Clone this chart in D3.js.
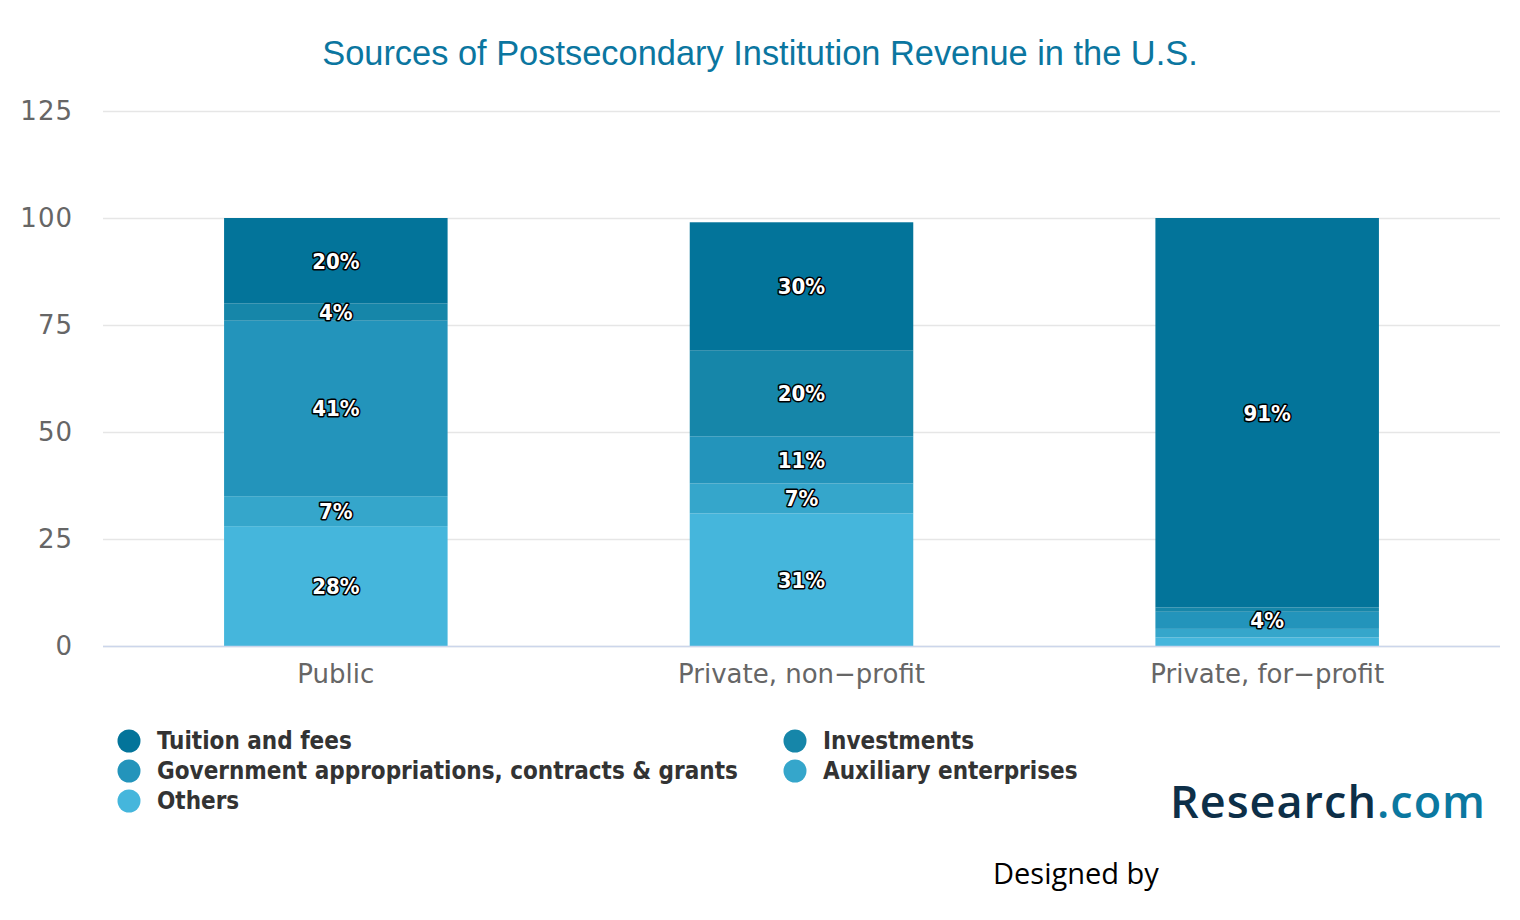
<!DOCTYPE html>
<html>
<head>
<meta charset="utf-8">
<script src="https://cdn.jsdelivr.net/npm/d3@7"></script>
<style>
  html, body { margin: 0; padding: 0; background: #fff; }
  svg { display: block; }
</style>
</head>
<body>
<svg id="chart" width="1520" height="920"></svg>
<script>
const categories = ["Public", "Private, non-profit", "Private, for-profit"];
const seriesNames = ["Tuition and fees", "Investments", "Government appropriations, contracts & grants", "Auxiliary enterprises", "Others"];
const tuition     = [20, 30, 91];
const investments = [4, 20, 1];
const government  = [41, 11, 4];
const auxiliary   = [7, 7, 2];
const others      = [28, 31, 2];
const yTicks = [0, 25, 50, 75, 100, 125];
const colors = ["#03749a", "#1686a9", "#2394bb", "#35a6cb", "#45b6dc"];

const seriesValues = [tuition, investments, government, auxiliary, others];
const svg = d3.select("#chart");

const margin = { left: 103, right: 1500, top: 111, bottom: 646 };
const x = d3.scaleBand().domain(categories).range([margin.left, margin.right]).paddingInner(0.52).paddingOuter(0.26);
const y = d3.scaleLinear().domain([0, 125]).range([margin.bottom, margin.top]);

// Title
svg.append("text")
  .attr("x", 760).attr("y", 65)
  .attr("text-anchor", "middle")
  .attr("font-family", "Liberation Sans, Arial, sans-serif")
  .attr("font-size", 34.4)
  .attr("fill", "#0b76a0")
  .text("Sources of Postsecondary Institution Revenue in the U.S.");

// Grid
const yAxis = d3.axisLeft(y).tickValues(yTicks).tickSize(-(margin.right - margin.left)).tickFormat(d3.format("d"));
const gy = svg.append("g").attr("transform", `translate(${margin.left},0)`).call(yAxis);
gy.select(".domain").remove();
gy.selectAll(".tick line").attr("stroke", "#e6e6e6").attr("stroke-width", 1.5);
gy.selectAll(".tick text")
  .attr("x", -30).attr("dy", "0.32em")
  .attr("font-family", "DejaVu Sans, sans-serif")
  .attr("font-size", 26).attr("fill", "#666")
  .attr("letter-spacing", 1);

// Stack
const tableData = categories.map((c, i) => {
  const o = { cat: c };
  seriesNames.forEach((s, j) => o[s] = seriesValues[j][i]);
  return o;
});
const stackOrder = seriesNames.slice().reverse(); // Others at bottom
const stacked = d3.stack().keys(stackOrder)(tableData);

const gBars = svg.append("g");
stacked.forEach(layer => {
  const ci = seriesNames.indexOf(layer.key);
  gBars.selectAll(null).data(layer).enter().append("rect")
    .attr("x", d => x(d.data.cat))
    .attr("width", x.bandwidth())
    .attr("y", d => y(d[1]))
    .attr("height", d => y(d[0]) - y(d[1]))
    .attr("fill", colors[ci]);
});

// X axis baseline
svg.append("line")
  .attr("x1", margin.left).attr("x2", margin.right)
  .attr("y1", y(0) + 0.5).attr("y2", y(0) + 0.5)
  .attr("stroke", "#ccd6eb").attr("stroke-width", 1.5);

// X labels
const xAxis = d3.axisBottom(x).tickSize(0);
const gx = svg.append("g").attr("transform", `translate(0,${y(0)})`).call(xAxis);
gx.select(".domain").remove();
gx.selectAll(".tick text")
  .attr("dy", "0")
  .attr("y", 37)
  .attr("font-family", "DejaVu Sans, sans-serif")
  .attr("font-size", 26).attr("fill", "#666")
  .text(d => d.replace("-", "\u2212"));

// Data labels
const gLabels = svg.append("g");
stacked.forEach(layer => {
  gLabels.selectAll(null).data(layer.filter(d => (d[1] - d[0]) >= 4)).enter().append("text")
    .attr("x", d => x(d.data.cat) + x.bandwidth() / 2)
    .attr("y", d => y((d[0] + d[1]) / 2))
    .attr("dy", "0.36em")
    .attr("text-anchor", "middle")
    .attr("font-family", "DejaVu Sans Condensed, DejaVu Sans, sans-serif")
    .attr("font-weight", "bold")
    .attr("font-size", 22)
    .attr("fill", "#fff")
    .attr("stroke", "#000")
    .attr("stroke-width", 3)
    .attr("stroke-linejoin", "round")
    .attr("paint-order", "stroke")
    .text(d => (d[1] - d[0]) + "%");
});

// Legend
const legendPos = [[129, 741], [795, 741], [129, 771], [795, 771], [129, 801]];
const gLeg = svg.append("g");
seriesNames.forEach((s, i) => {
  const [lx, ly] = legendPos[i];
  gLeg.append("circle").attr("cx", lx).attr("cy", ly).attr("r", 11.5).attr("fill", colors[i]);
  gLeg.append("text")
    .attr("x", lx + 28).attr("y", ly).attr("dy", "0.35em")
    .attr("font-family", "DejaVu Sans Condensed, DejaVu Sans, sans-serif")
    .attr("font-weight", "bold")
    .attr("font-size", 24)
    .attr("fill", "#333")
    .text(s);
});

// Logo
const logo = svg.append("text")
  .attr("x", 1170).attr("y", 818)
  .attr("font-family", "Open Sans, sans-serif")
  .attr("font-weight", 600)
  .attr("font-size", 45)
  .attr("letter-spacing", 1);
logo.append("tspan").attr("fill", "#0d2f48").text("Research");
logo.append("tspan").attr("fill", "#0b78a0").text(".com");

// Designed by
svg.append("text")
  .attr("x", 993).attr("y", 884)
  .attr("font-family", "Open Sans, sans-serif")
  .attr("font-size", 29)
  .attr("fill", "#000")
  .text("Designed by");
</script>
</body>
</html>
